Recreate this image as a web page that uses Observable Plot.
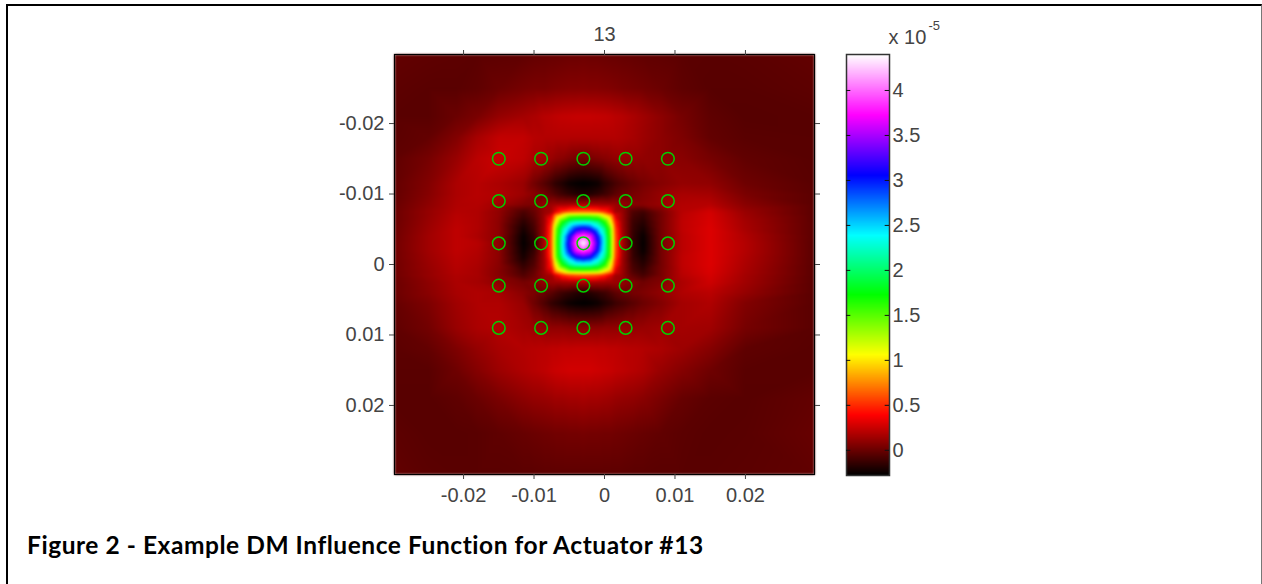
<!DOCTYPE html>
<html>
<head>
<meta charset="utf-8">
<script src="https://cdn.jsdelivr.net/npm/d3@7"></script>
<script src="https://cdn.jsdelivr.net/npm/@observablehq/plot@0.6"></script>
<style>
html,body{margin:0;padding:0;background:#fff;width:1262px;height:584px;overflow:hidden}
#frame{position:absolute;left:6px;top:4px;width:1256px;height:620px;border-left:2px solid #000;border-top:2px solid #000;border-right:1px solid #777;box-sizing:border-box}
#main{position:absolute;left:0;top:0}
#bar{position:absolute;left:800px;top:0}
#main image{filter:blur(1.2px)}
#caption{position:absolute;left:27px;top:530px;font:700 24.5px Lato,sans-serif;letter-spacing:0.55px;color:#000;white-space:nowrap}
</style>
</head>
<body>
<div id="frame"></div>
<div id="main"></div>
<div id="bar"></div>
<div id="caption">Figure 2 - Example DM Influence Function for Actuator #13</div>
<script>
const titleText = "13";
const captionText = "Figure 2 - Example DM Influence Function for Actuator #13";
const xTicks = [-0.02, -0.01, 0, 0.01, 0.02];
const yTicks = [-0.02, -0.01, 0, 0.01, 0.02];
const barTicks = [0, 0.5, 1, 1.5, 2, 2.5, 3, 3.5, 4];
const actuatorX = [-0.015, -0.009, -0.003, 0.003, 0.009];
const actuatorY = [-0.015, -0.009, -0.003, 0.003, 0.009];
const colorStops = [-0.28, 0.39, 1.06, 1.73, 2.39, 3.06, 3.73, 4.4];
const colorRamp = ["#000000", "#ff0000", "#ffff00", "#00ff00", "#00ffff", "#0000ff", "#ff00ff", "#ffffff"];

const gridX = [-0.03,-0.025,-0.021,-0.018,-0.015,-0.0115,-0.01,-0.0085,-0.0075,-0.007,-0.006,-0.005,-0.004,-0.003,-0.002,-0.001,0,0.001,0.0015,0.0025,0.004,0.0055,0.008,0.011,0.015,0.02,0.03];
const gridY = [-0.03,-0.025,-0.021,-0.018,-0.015,-0.0115,-0.01,-0.0085,-0.0075,-0.007,-0.006,-0.005,-0.004,-0.003,-0.002,-0.001,0,0.001,0.0015,0.0025,0.004,0.0055,0.009,0.012,0.015,0.019,0.024,0.03];

// deflection, in units of 1e-5, one row per gridY
const field = [
[-.02,-.03,-.035,-.04,-.035,-.03,-.02, -.015,-.01,-.01,-.005,0,0,.005,0,0,-.005,-.01,-.01,-.015, -.02,-.025,-.03,-.04,-.045,-.04,-.02],
[-.035,-.045,-.045,-.03,0,.03,.04, .04,.05,.055,.06,.065,.065,.07,.065,.065,.06,.055,.05,.04, .03,.02,0,-.03,-.05,-.05,-.035],
[-.045,-.045,0,.04,.11,.15,.17, .2,.21,.22,.23,.235,.24,.24,.24,.235,.23,.22,.21,.2, .17,.14,.09,.03,-.03,-.055,-.05],
[-.04,-.02,.06,.16,.23,.23,.2, .19,.19,.19,.19,.19,.19,.19,.19,.19,.19,.19,.19,.18, .16,.13,.09,.05,-.02,-.045,-.05],
[-.03,.03,.12,.21,.25,.22,.17, .15,.12,.1,.08,.05,.03,.02,.03,.05,.07,.09,.1,.11, .11,.1,.09,.08,.03,-.025,-.05],
[-.02,.06,.17,.2,.17,.12,.02, -.06,-.12,-.16,-.2,-.25,-.27,-.28,-.27,-.25,-.18,-.13,-.1,-.06, -.01,.03,.07,.11,.1,.01,-.045],
[-.02,.07,.17,.2,.18,.13,.08, .02,-.04,-.07,-.12,-.16,-.19,-.2,-.19,-.16,-.12,-.07,-.04,0, .03,.06,.11,.16,.15,.04,-.04],
[-.01,.09,.18,.19,.14,.06,.05, .12,.13,.14,.15,.16,.17,.17,.17,.16,.15,.14,.13,.12, .08,.08,.12,.19,.2,.08,-.04],
[0,.11,.19,.18,.1,-.08,-.01, .12,.15,.3,.5,.6,.64,.65,.64,.6,.5,.3,.15,.12, -.07,-.11,.03,.2,.27,.12,-.04],
[0,.11,.2,.18,.1,-.11,-.03, .14,.3,.7,1,1.3,1.33,1.35,1.33,1.3,1,.7,.3,.14, -.09,-.14,.02,.21,.28,.13,-.04],
[0,.12,.21,.18,.09,-.17,-.07, .15,.5,1,1.7,2.1,2.27,2.3,2.27,2.1,1.7,1,.5,.15, -.12,-.18,.02,.22,.29,.15,-.04],
[.005,.13,.22,.18,.09,-.22,-.1, .16,.6,1.3,2.1,2.6,3.05,3.2,3.05,2.6,2.1,1.3,.6,.16, -.13,-.22,.02,.22,.3,.16,-.04],
[.01,.14,.22,.17,.09,-.26,-.14, .17,.64,1.33,2.27,3.05,3.75,3.95,3.75,3.05,2.27,1.33,.64,.17, -.14,-.26,.02,.21,.3,.18,-.04],
[.015,.14,.22,.2,.09,-.27,-.17, .17,.65,1.35,2.3,3.2,3.95,4.4,3.95,3.2,2.3,1.35,.65,.17, -.15,-.27,.02,.21,.3,.19,-.045],
[.015,.14,.22,.19,.09,-.25,-.14, .17,.64,1.33,2.27,3.05,3.75,3.95,3.75,3.05,2.27,1.33,.64,.17, -.14,-.26,.02,.21,.3,.19,-.045],
[.015,.13,.21,.18,.09,-.22,-.1, .16,.6,1.3,2.1,2.6,3.05,3.2,3.05,2.6,2.1,1.3,.6,.16, -.13,-.22,.02,.22,.3,.18,-.045],
[.01,.12,.2,.17,.08,-.16,-.07, .15,.5,1,1.7,2.1,2.27,2.3,2.27,2.1,1.7,1,.5,.15, -.1,-.18,.02,.22,.3,.17,-.045],
[.01,.11,.19,.16,.07,-.1,-.02, .14,.3,.7,1,1.3,1.33,1.35,1.33,1.3,1,.7,.3,.14, -.07,-.13,.03,.21,.29,.16,-.045],
[.01,.11,.18,.16,.07,-.07,0, .12,.15,.3,.5,.6,.64,.65,.64,.6,.5,.3,.15,.12, -.03,-.1,.03,.2,.28,.15,-.045],
[0,.09,.17,.15,.09,.03,.06, .12,.13,.14,.15,.16,.17,.17,.17,.16,.15,.14,.13,.12, .06,.01,.06,.17,.26,.14,-.045],
[0,.08,.16,.18,.16,.08,.04, 0,-.04,-.07,-.12,-.15,-.18,-.2,-.18,-.15,-.12,-.07,-.04,0, .03,.05,.1,.18,.21,.11,-.045],
[-.015,.05,.14,.18,.18,.115,.01, -.08,-.15,-.17,-.21,-.25,-.27,-.28,-.27,-.25,-.2,-.16,-.13,-.1, -.05,0,.06,.15,.18,.06,-.045],
[-.03,.02,.12,.17,.19,.15,.13, .11,.1,.1,.1,.09,.09,.09,.09,.09,.1,.1,.1,.11, .11,.12,.14,.15,.14,.03,-.045],
[-.04,-.02,.05,.11,.16,.19,.2, .21,.22,.22,.23,.23,.235,.235,.235,.23,.23,.22,.22,.21, .2,.19,.17,.13,.07,-.03,-.05],
[-.045,-.045,.01,.07,.13,.18,.2, .22,.24,.25,.26,.27,.27,.27,.27,.26,.25,.24,.23,.22, .2,.18,.12,.07,.01,-.045,-.045],
[-.05,-.05,-.03,0,.04,.09,.11, .12,.13,.14,.14,.15,.15,.16,.15,.15,.14,.13,.12,.11, .1,.08,.04,-.01,-.04,-.05,-.02],
[-.035,-.05,-.05,-.045,-.03,-.01,0, .01,.015,.02,.02,.025,.025,.03,.025,.025,.02,.02,.015,.01, 0,-.01,-.025,-.04,-.05,-.045,-.01],
[-.02,-.04,-.045,-.045,-.045,-.04,-.04, -.035,-.035,-.035,-.035,-.035,-.035,-.035,-.035,-.035,-.035,-.035,-.035,-.035, -.04,-.04,-.045,-.045,-.045,-.04,-.025]
];

const cells = field.flatMap((row, j) => row.map((v, i) => ({x: gridX[i], y: gridY[j], v})));
const actuators = actuatorY.flatMap(y => actuatorX.map(x => ({x, y})));
const fmt = d => d === 0 ? "0" : String(d);
const labelFont = {fontFamily: "Liberation Sans, Arial, sans-serif", fontSize: "20px", color: "#444"};
const colorScale = {type: "linear", domain: colorStops, range: colorRamp};
const axisStyle = {tickSize: 5, stroke: "#444", fill: "#444", fontSize: 20};

const main = Plot.plot({
  width: 820, height: 520,
  marginLeft: 394, marginRight: 6, marginTop: 54, marginBottom: 46,
  style: {...labelFont, background: "transparent", overflow: "visible"},
  x: {domain: [-0.0298, 0.0298], label: null},
  y: {domain: [-0.0298, 0.0298], label: null, reverse: true},
  color: colorScale,
  marks: [
    Plot.raster(cells, {x: "x", y: "y", fill: "v", interpolate: "barycentric", pixelSize: 1}),
    Plot.frame({stroke: "#000", strokeWidth: 1.2}),
    Plot.axisX({anchor: "bottom", ticks: xTicks, tickFormat: fmt, label: null, tickPadding: 8, ...axisStyle}),
    Plot.axisX({anchor: "top", ticks: xTicks, tickFormat: () => "", label: null, ...axisStyle}),
    Plot.axisY({anchor: "left", ticks: yTicks, tickFormat: fmt, label: null, tickPadding: 5, ...axisStyle}),
    Plot.axisY({anchor: "right", ticks: yTicks, tickFormat: () => "", label: null, ...axisStyle}),
    Plot.dot(actuators, {x: "x", y: "y", r: 6.3, stroke: "#00d000", strokeWidth: 1.5, fill: "none"}),
    Plot.text([titleText], {frameAnchor: "top", dy: -28, fontSize: 20, fill: "#444"})
  ]
});
document.getElementById("main").appendChild(main);

const barLevels = d3.range(4.4, -0.28, -0.01);
const bar = Plot.plot({
  width: 200, height: 520,
  marginLeft: 46, marginRight: 111, marginTop: 54, marginBottom: 45,
  style: {...labelFont, background: "transparent", overflow: "visible"},
  x: {domain: [0, 1], axis: null},
  y: {domain: [-0.28, 4.4], label: null, axis: null},
  color: colorScale,
  marks: [
    Plot.raster(barLevels, {width: 1, height: barLevels.length, x1: 0, x2: 1, y1: 4.4, y2: -0.28, fill: d => d}),
    Plot.frame({stroke: "#333", strokeWidth: 1.5}),
    Plot.ruleY(barTicks, {x1: 0, x2: 0.1, stroke: "#111"}),
    Plot.ruleY(barTicks, {x1: 0.9, x2: 1, stroke: "#111"}),
    Plot.text(barTicks, {x: 1, y: d => d, text: d => String(d), textAnchor: "start", dx: 3, fontSize: 20, fill: "#444"}),
    Plot.text(["x 10"], {frameAnchor: "top-left", dx: 42, dy: -25, fontSize: 20, fill: "#444", textAnchor: "start"}),
    Plot.text(["-5"], {frameAnchor: "top-left", dx: 82, dy: -34, fontSize: 13, fill: "#444", textAnchor: "start"})
  ]
});
document.getElementById("bar").appendChild(bar);
</script>
</body>
</html>
